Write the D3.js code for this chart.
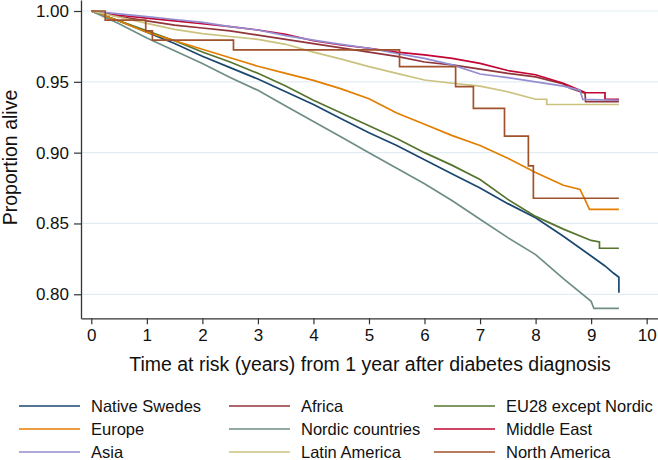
<!DOCTYPE html>
<html>
<head>
<meta charset="utf-8">
<script src="https://cdn.jsdelivr.net/npm/d3@7"></script>
<style>
body { margin: 0; background: #fff; }
svg { font-family: "Liberation Sans", Arial, Helvetica, sans-serif; }
</style>
</head>
<body>
<svg id="chart" width="658" height="460"></svg>
<script>
// survival estimates, [years, proportion alive]
var nativeSwedes = [[0,1],[0.5,0.993],[1,0.985],[1.5,0.977],[2,0.968],[2.5,0.960],[3,0.952],[3.5,0.943],[4,0.934],[4.5,0.924],[5,0.914],[5.5,0.905],[6,0.895],[6.5,0.885],[7,0.875],[7.5,0.864],[8,0.854],[8.5,0.841],[9,0.827],[9.25,0.820],[9.4,0.815],[9.5,0.812],[9.5,0.801]];
var africa = [[0,1],[0.5,0.996],[1,0.993],[1.5,0.990],[2,0.988],[2.5,0.986],[3,0.983],[3.5,0.980],[4,0.977],[4.5,0.974],[5,0.971],[5.5,0.968],[6,0.964],[6.5,0.962],[7,0.959],[7.5,0.956],[8,0.9535],[8.5,0.9485],[8.62,0.9454],[8.89,0.942],[8.9,0.936],[9.5,0.936]];
var eu28 = [[0,1],[0.5,0.993],[1,0.986],[1.5,0.979],[2,0.971],[2.5,0.964],[3,0.956],[3.5,0.947],[4,0.937],[4.5,0.928],[5,0.919],[5.5,0.910],[6,0.900],[6.5,0.891],[7,0.881],[7.5,0.867],[8,0.855],[8.5,0.846],[9,0.838],[9.15,0.837],[9.15,0.8325],[9.5,0.8325]];
var europe = [[0,1],[0.5,0.993],[1,0.985],[1.5,0.979],[2,0.973],[2.5,0.967],[3,0.961],[3.5,0.956],[4,0.951],[4.5,0.945],[5,0.938],[5.5,0.928],[6,0.920],[6.5,0.912],[7,0.905],[7.5,0.896],[8,0.886],[8.5,0.877],[8.8,0.874],[8.9,0.866],[8.97,0.860],[9.5,0.860]];
var nordic = [[0,1],[0.5,0.991],[1,0.981],[1.5,0.972],[2,0.963],[2.5,0.953],[3,0.944],[3.5,0.933],[4,0.922],[4.5,0.911],[5,0.900],[5.5,0.889],[6,0.878],[6.5,0.866],[7,0.853],[7.5,0.840],[8,0.828],[8.5,0.811],[9,0.795],[9.05,0.790],[9.5,0.790]];
var middleEast = [[0,1],[0.5,0.997],[1,0.995],[1.5,0.993],[2,0.991],[2.5,0.989],[3,0.9866],[3.5,0.9835],[4,0.979],[4.5,0.976],[5,0.9737],[5.5,0.971],[6,0.969],[6.5,0.9666],[7,0.963],[7.5,0.958],[8,0.955],[8.5,0.949],[8.8,0.944],[8.9,0.9423],[9.25,0.9423],[9.25,0.9376],[9.5,0.9376]];
var asia = [[0,1],[0.5,0.998],[1,0.996],[1.5,0.994],[2,0.992],[2.5,0.989],[3,0.9866],[3.5,0.9826],[4,0.9795],[4.5,0.9765],[5,0.9737],[5.5,0.970],[6,0.9666],[6.5,0.962],[7,0.9555],[7.5,0.953],[8,0.950],[8.5,0.947],[8.8,0.944],[8.85,0.9376],[9.5,0.9370]];
var latinAmerica = [[0,1],[0.35,0.997],[1,0.9913],[1.5,0.987],[2,0.984],[2.5,0.982],[3,0.980],[3.5,0.9765],[4,0.971],[4.5,0.966],[5,0.9607],[5.5,0.956],[6,0.9513],[6.5,0.949],[7,0.947],[7.5,0.943],[8,0.9377],[8.2,0.9377],[8.2,0.934],[9.5,0.934]];
var northAmerica = [[0,1],[0.25,1],[0.25,0.9935],[0.98,0.9935],[0.98,0.986],[1.1,0.986],[1.1,0.9795],[2.56,0.9795],[2.56,0.9725],[5.55,0.9725],[5.55,0.9607],[6.56,0.9607],[6.56,0.9466],[6.88,0.9466],[6.88,0.9313],[7.44,0.9313],[7.44,0.9117],[7.87,0.9117],[7.87,0.8906],[7.96,0.8906],[7.96,0.8678],[9.5,0.8678]];

var groupNames = ["Native Swedes","Africa","EU28 except Nordic","Europe","Nordic countries","Middle East","Asia","Latin America","North America"];
var groupData = [nativeSwedes, africa, eu28, europe, nordic, middleEast, asia, latinAmerica, northAmerica];
var groupColors = ["#1a476f","#90353b","#55752f","#e37e00","#6e8e84","#c10534","#938dd2","#cac27e","#a0522d"];

var yTicks = [0.80, 0.85, 0.90, 0.95, 1.00];
var xTicks = [0,1,2,3,4,5,6,7,8,9,10];

var svg = d3.select("#chart");
var margin = {top: 0, left: 81};
var width = 577, height = 318.3;

var g = svg.append("g").attr("transform", "translate(" + margin.left + "," + margin.top + ")");

var xScale = d3.scaleLinear().domain([-0.1855, 10.204]).range([0, width]);
var yScale = d3.scaleLinear().domain([0.78304, 1.00777]).range([height, 0]);

// grid
g.append("g").selectAll("line")
  .data(yTicks)
  .enter()
  .append("line")
  .attr("x1", 0).attr("x2", width)
  .attr("y1", function(d){ return yScale(d); })
  .attr("y2", function(d){ return yScale(d); })
  .attr("stroke", "#e3edf1")
  .attr("stroke-width", 1.2);

var line = d3.line()
  .x(function(d){ return xScale(d[0]); })
  .y(function(d){ return yScale(d[1]); });

g.append("g").selectAll("path")
  .data(groupData)
  .enter()
  .append("path")
  .attr("d", line)
  .attr("fill", "none")
  .attr("stroke", function(d, i){ return groupColors[i]; })
  .attr("stroke-width", 1.7);

var yAxis = d3.axisLeft(yScale).tickValues(yTicks).tickFormat(d3.format(".2f")).tickSize(7).tickSizeOuter(0).tickPadding(5);
var xAxis = d3.axisBottom(xScale).tickValues(xTicks).tickFormat(d3.format("d")).tickSize(6).tickSizeOuter(0).tickPadding(5);

var ya = g.append("g").call(yAxis);
var xa = g.append("g").attr("transform", "translate(0," + height + ")").call(xAxis);
[ya, xa].forEach(function(a){
  a.select(".domain").attr("stroke", "#333").attr("stroke-width", 1.3);
  a.selectAll(".tick line").attr("stroke", "#333").attr("stroke-width", 1.2);
  a.selectAll("text").attr("fill", "#111").style("font-size", "17px").style("font-family", "'Liberation Sans', Arial, sans-serif");
});

svg.append("text")
  .attr("transform", "rotate(-90)")
  .attr("x", -157.5)
  .attr("y", 17)
  .style("text-anchor", "middle")
  .style("font-size", "19.5px")
  .attr("fill", "#111")
  .text("Proportion alive");

svg.append("text")
  .attr("x", 370)
  .attr("y", 371)
  .style("text-anchor", "middle")
  .style("font-size", "19.5px")
  .attr("fill", "#111")
  .text("Time at risk (years) from 1 year after diabetes diagnosis");

// legend, 3 columns
var colX = [19, 229, 434];
var rowY = [406, 429, 452];
var leg = svg.append("g").selectAll("g")
  .data(groupNames)
  .enter()
  .append("g")
  .attr("transform", function(d, i){ return "translate(" + colX[i % 3] + "," + rowY[Math.floor(i / 3)] + ")"; });
leg.append("line")
  .attr("x1", 0).attr("x2", 61).attr("y1", 0).attr("y2", 0)
  .attr("stroke", function(d, i){ return groupColors[i]; })
  .attr("stroke-width", 1.7);
leg.append("text")
  .attr("x", 72).attr("y", 5.5)
  .style("font-size", "16.5px")
  .attr("fill", "#111")
  .text(function(d){ return d; });
</script>
</body>
</html>
